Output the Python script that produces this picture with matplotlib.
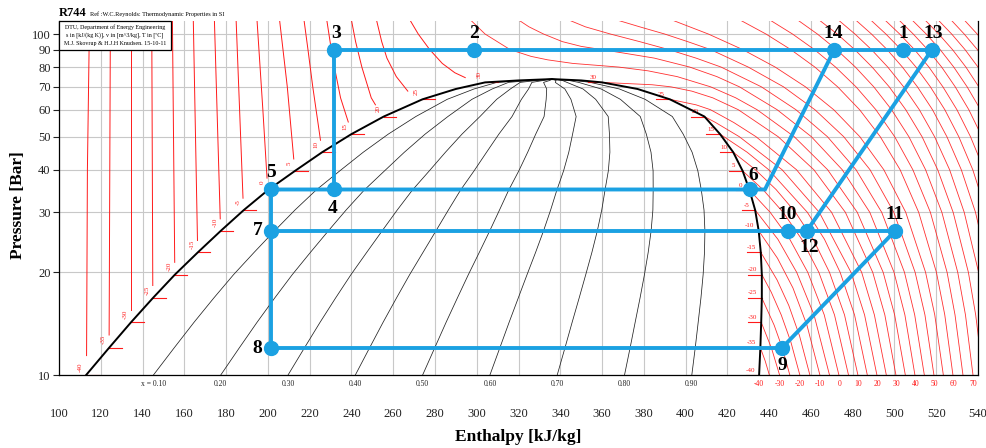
import matplotlib
matplotlib.use("Agg")
import matplotlib.pyplot as plt
from matplotlib.patches import Rectangle

plt.rcParams['font.family'] = ['Liberation Serif', 'DejaVu Serif']

# ---------------- data ----------------
# saturation dome: temperature [C], pressure [bar], liquid / vapour enthalpy [kJ/kg]
SAT_T = [-40, -35, -30, -25, -20, -15, -10, -5, 0, 5, 10, 15, 20, 25, 28, 30, 30.6, 31.0]
SAT_P = [10.0, 12.02, 14.28, 16.83, 19.70, 22.90, 26.49, 30.47, 34.85, 39.69, 45.02,
         50.87, 57.29, 64.34, 69.0, 72.14, 73.1, 73.77]
SAT_HL = [113.0, 124.0, 134.5, 145.0, 155.5, 166.5, 177.5, 188.5, 200.0, 213.0, 226.0,
          240.0, 255.5, 274.0, 290.0, 304.0, 320.0, 336.0]
SAT_HV = [435.2, 435.8, 436.2, 436.5, 436.5, 436.0, 435.0, 433.3, 430.6, 427.3, 422.8,
          416.5, 409.0, 392.5, 377.0, 360.0, 350.0, 336.0]

QUALITIES = [0.1, 0.2, 0.3, 0.4, 0.5, 0.6, 0.7, 0.8, 0.9]

# liquid-side isotherms (visible part, ending a little above the dome): T -> (P, h)
LIQ_ISO = {
    -40: ([11.4, 40, 110], [113.2, 113.6, 114.6]),
    -35: ([13.1, 110], [124.0, 124.6]),
    -30: ([15.5, 110], [134.5, 134.5]),
    -25: ([18.3, 110], [144.9, 144.4]),
    -20: ([21.4, 110], [155.4, 154.3]),
    -15: ([24.8, 110], [166.3, 164.3]),
    -10: ([28.7, 110], [177.2, 174.4]),
    -5: ([33.0, 110], [188.1, 184.8]),
    0: ([37.8, 60, 110], [199.6, 197.6, 194.8]),
    5: ([43.0, 70, 110], [212.4, 209.3, 205.6]),
    10: ([48.8, 70, 90, 110], [225.2, 221.5, 219.2, 217.3]),
    15: ([55.2, 65, 85, 110], [238.5, 234.8, 231.0, 228.2]),
    20: ([62.0, 65, 80, 95, 110], [251.5, 249.5, 245.0, 242.0, 240.0]),
    25: ([68.0, 75, 85, 95, 110], [267.0, 261.5, 257.0, 254.5, 252.0]),
    30: ([74.5, 77, 82, 90, 100, 110], [294.5, 289.5, 283.5, 277.5, 272.0, 268.0]),
}

# vapour / supercritical isotherms: T -> (pressures, enthalpies)
VAP_ISO = {
    -35: ([10, 11, 12.02], [440.1, 438.1, 435.8]),
    -30: ([10, 12, 14.28], [445.0, 441.1, 436.2]),
    -25: ([10, 12, 14, 16.83], [449.9, 446.3, 442.4, 436.5]),
    -20: ([10, 12.5, 15, 17.5, 19.7], [454.7, 450.4, 445.8, 441.0, 436.5]),
    -15: ([10, 13, 16, 19, 22.9], [459.5, 454.6, 449.4, 443.8, 436.0]),
    -10: ([10, 14, 18, 22, 26.49], [464.3, 458.1, 451.4, 444.0, 435.0]),
    -5: ([10, 15, 20, 25, 30.47], [468.9, 461.5, 453.2, 444.2, 433.3]),
    0: ([10, 15, 20, 25, 30, 34.85], [473.4, 466.4, 458.5, 449.9, 440.5, 430.6]),
    5: ([10, 15, 20, 25, 30, 35, 39.69], [478.0, 471.3, 463.8, 455.6, 446.7, 437.0, 427.3]),
    10: ([10, 15, 20, 25, 30, 35, 40, 45.02], [482.5, 476.1, 468.9, 461.1, 452.6, 443.3, 433.4, 422.8]),
    15: ([10, 15, 20, 25, 30, 40, 45, 50.87], [487.0, 480.9, 474.0, 466.5, 458.3, 439.8, 429.5, 416.5]),
    20: ([10, 15, 20, 30, 40, 50, 55, 57.29], [491.6, 485.7, 479.2, 464.0, 446.2, 425.7, 414.4, 409.0]),
    25: ([10, 15, 20, 30, 40, 50, 55, 60, 62, 64.34],
         [496.1, 490.4, 484.3, 469.9, 453.1, 433.7, 423.1, 411.9, 405.0, 392.5]),
    30: ([10, 15, 20, 30, 40, 50, 60, 65, 68, 70, 71, 72.14],
         [500.7, 495.4, 489.6, 476.5, 461.4, 444.3, 425.2, 413.0, 403.0, 393.0, 384.0, 360.0]),
    35: ([10, 15, 20, 30, 40, 50, 60, 65, 70, 75, 78, 80, 81, 82, 84, 86, 90, 100, 110],
         [505.2, 500.1, 494.6, 482.2, 468.0, 452.0, 434.2, 424.0, 412.0, 396.0, 382.0, 368.0,
          357.0, 346.0, 334.0, 326.0, 316.0, 304.0, 297.0]),
    40: ([10, 15, 20, 30, 40, 50, 60, 70, 75, 80, 85, 88, 90, 92, 95, 100, 105, 110],
         [509.8, 505.0, 499.8, 488.2, 475.0, 460.2, 443.8, 425.8, 415.0, 402.0, 385.0, 370.0,
          360.0, 350.0, 341.0, 332.0, 325.0, 320.0]),
    45: ([10, 15, 20, 30, 40, 50, 60, 70, 80, 85, 90, 95, 100, 105, 110],
         [514.3, 509.7, 504.8, 493.9, 481.6, 467.9, 452.8, 436.3, 417.0, 405.0, 392.0, 378.0,
          364.0, 352.0, 344.0]),
    50: ([10, 15, 20, 30, 40, 50, 60, 70, 80, 90, 95, 100, 105, 110],
         [518.9, 514.6, 509.9, 499.7, 488.3, 475.7, 461.9, 446.9, 430.0, 412.0, 401.0, 390.0,
          378.0, 367.0]),
    55: ([10, 15, 20, 30, 40, 50, 60, 70, 80, 90, 100, 110],
         [523.4, 519.3, 514.9, 505.4, 494.9, 483.4, 470.9, 457.4, 442.9, 427.4, 410.9, 393.4]),
    60: ([10, 15, 20, 30, 40, 50, 60, 70, 80, 90, 100, 110],
         [528.0, 524.1, 520.1, 511.6, 502.7, 493.2, 483.3, 472.8, 461.9, 450.4, 438.5, 426.0]),
    65: ([10, 15, 20, 30, 40, 50, 60, 70, 80, 90, 100, 110],
         [532.8, 529.0, 525.2, 517.2, 508.8, 500.1, 491.1, 481.6, 471.8, 461.7, 451.2, 440.3]),
    70: ([10, 15, 20, 30, 40, 50, 60, 70, 80, 90, 100, 110],
         [537.6, 534.0, 530.3, 522.7, 514.9, 506.9, 498.6, 490.1, 481.3, 472.3, 463.1, 453.6]),
    75: ([10, 15, 20, 30, 40, 50, 60, 70, 80, 90, 100, 110],
         [542.4, 538.9, 535.4, 528.1, 520.7, 513.2, 505.4, 497.5, 489.3, 481.0, 472.6, 463.9]),
    80: ([10, 15, 20, 30, 40, 50, 60, 70, 80, 90, 100, 110],
         [547.1, 543.7, 540.3, 533.4, 526.4, 519.2, 511.9, 504.4, 496.8, 489.0, 481.1, 473.1]),
    85: ([10, 15, 20, 30, 40, 50, 60, 70, 80, 90, 100, 110],
         [551.9, 548.7, 545.4, 538.8, 532.0, 525.1, 518.2, 511.0, 503.8, 496.5, 489.0, 481.4]),
    90: ([10, 15, 20, 30, 40, 50, 60, 70, 80, 90, 100, 110],
         [556.6, 553.5, 550.3, 544.0, 537.5, 530.8, 524.1, 517.2, 510.3, 503.2, 495.9, 488.6]),
    95: ([10, 15, 20, 30, 40, 50, 60, 70, 80, 90, 100, 110],
         [561.4, 558.4, 555.3, 549.2, 542.9, 536.4, 529.9, 523.2, 516.5, 509.6, 502.5, 495.4]),
    100: ([10, 15, 20, 30, 40, 50, 60, 70, 80, 90, 100, 110],
          [566.1, 563.2, 560.2, 554.3, 548.2, 541.9, 535.6, 529.1, 522.6, 515.9, 509.0, 502.1]),
    105: ([10, 15, 20, 30, 40, 50, 60, 70, 80, 90, 100, 110],
          [570.9, 568.1, 565.2, 559.4, 553.4, 547.3, 541.2, 534.8, 528.4, 521.9, 515.2, 508.4]),
    110: ([10, 15, 20, 30, 40, 50, 60, 70, 80, 90, 100, 110],
          [575.6, 572.8, 570.0, 564.4, 558.6, 552.6, 546.6, 540.4, 534.2, 527.8, 521.2, 514.6]),
    115: ([10, 15, 20, 30, 40, 50, 60, 70, 80, 90, 100, 110],
          [580.4, 577.7, 575.0, 569.5, 563.8, 558.0, 552.2, 546.1, 540.0, 533.8, 527.4, 520.9]),
    120: ([10, 15, 20, 30, 40, 50, 60, 70, 80, 90, 100, 110],
          [585.1, 582.5, 579.8, 574.5, 569.0, 563.3, 557.6, 551.7, 545.8, 539.7, 533.4, 527.1]),
    125: ([10, 15, 20, 30, 40, 50, 60, 70, 80, 90, 100, 110],
          [589.9, 587.4, 584.8, 579.6, 574.2, 568.7, 563.2, 557.4, 551.6, 545.7, 539.6, 533.4]),
    130: ([10, 15, 20, 30, 40, 50, 60, 70, 80, 90, 100, 110],
          [594.6, 592.2, 589.7, 584.6, 579.4, 574.0, 568.6, 563.0, 557.4, 551.6, 545.6, 539.6]),
}

# isotherm labels under the x axis (at 10 bar)
BOTTOM_T = [-40, -30, -20, -10, 0, 10, 20, 30, 40, 50, 60, 70]
BOTTOM_H = [435.2, 445.3, 454.9, 464.4, 473.6, 482.7, 491.8, 500.9, 510.0, 519.1, 528.2, 537.8]

X_TICKS = list(range(100, 541, 20))
Y_TICKS = [10, 20, 30, 40, 50, 60, 70, 80, 90, 100]

# refrigeration cycle state points
PT_NAME = ['1', '2', '3', '4', '5', '6', '7', '8', '9', '10', '11', '12', '13', '14']
PT_H = [504.3, 298.8, 231.7, 231.7, 201.5, 431.0, 201.5, 201.5, 446.1, 448.8, 500.4, 458.1, 518.0, 471.2]
PT_P = [90, 90, 90, 35, 35, 35, 26.5, 12, 12, 26.5, 26.5, 26.5, 90, 90]
KINK_H, KINK_P = 438.0, 35
CYCLE_PATHS = [['3', '2', '14', '1', '13'], ['3', '4'], ['5', '4', '6', 'K', '14'],
               ['5', '7', '8'], ['7', '10', '12', '11'], ['12', '13'], ['8', '9', '11']]
# label offsets in pixels (dx, dy, y up)
LABEL_OFF = {'1': (0, 16), '2': (0, 16), '3': (2, 16), '4': (-1, -19), '5': (0, 17),
             '6': (3, 14), '7': (-13, 0), '8': (-14, 0), '9': (0, -17), '10': (0, 16),
             '11': (-1, 16), '12': (2, -17), '13': (1, 16), '14': (-1, 16)}

BLUE = '#1ba1e2'
RED = '#ff1a1a'

# ---------------- figure ----------------
W, H = 987, 448
fig = plt.figure(figsize=(W / 100, H / 100), dpi=100)
ax = fig.add_axes([59 / W, 1 - 375 / H, (978 - 59) / W, (375 - 21) / H])
ax.set_yscale('log')
ax.set_xlim(100, 540)
ax.set_ylim(10, 109.2)

ax.set_xticks(X_TICKS)
ax.set_xticklabels([str(v) for v in X_TICKS])
ax.set_yticks(Y_TICKS)
ax.set_yticklabels([str(v) for v in Y_TICKS])
ax.yaxis.set_minor_locator(matplotlib.ticker.NullLocator())
ax.tick_params(axis='x', length=0, pad=24, labelsize=9, colors='#222222')
ax.tick_params(axis='y', length=4, width=0.8, pad=2, labelsize=9, colors='#222222')
ax.grid(True, color='#c8c8c8', lw=0.8)
ax.set_axisbelow(True)
for s in ['left', 'bottom', 'right']:
    ax.spines[s].set_linewidth(0.9)
ax.spines['top'].set_visible(False)

# isotherms
for T, (p, h) in LIQ_ISO.items():
    ax.plot(h, p, color=RED, lw=0.7, zorder=2)
for T, (p, h) in VAP_ISO.items():
    ax.plot(h, p, color=RED, lw=0.6, alpha=0.9, zorder=2)

# quality lines
for x in QUALITIES:
    hq = [hl + x * (hv - hl) for hl, hv in zip(SAT_HL, SAT_HV)]
    ax.plot(hq, SAT_P, color='#222222', lw=0.55, zorder=3)

# saturation dome
ax.plot(SAT_HL + SAT_HV[::-1], SAT_P + SAT_P[::-1], color='black', lw=1.4, zorder=4)

# dome temperature labels
for T, p, hl, hv in zip(SAT_T, SAT_P, SAT_HL, SAT_HV):
    if T % 5 != 0 or T > 30:
        continue
    lab = '%d' % T
    ax.plot([hl, hl + 6], [p, p], color=RED, lw=0.8, zorder=3)
    ax.annotate(lab, (hl, p), xytext=(-6, 8), textcoords='offset pixels', rotation=90,
                ha='center', va='center', fontsize=5, color=RED)
    ax.plot([hv - 6.5, hv], [p, p], color=RED, lw=0.8, zorder=3)
    ax.annotate(lab, (hv, p), xytext=(-9, 5), textcoords='offset pixels',
                ha='center', va='center', fontsize=5, color=RED)

# labels under the axis
for T, h in zip(BOTTOM_T, BOTTOM_H):
    ax.annotate('%d' % T, (h, 10), xytext=(0, -9), textcoords='offset pixels',
                ha='center', va='center', fontsize=5.5, color=RED, annotation_clip=False)
for x in QUALITIES:
    hx = SAT_HL[0] + x * (SAT_HV[0] - SAT_HL[0])
    lab = ('x = %.2f' % x) if x == QUALITIES[0] else '%.2f' % x
    ax.annotate(lab, (hx, 10), xytext=(0, -9), textcoords='offset pixels',
                ha='center', va='center', fontsize=5.5, color='#222222', annotation_clip=False)

# cycle
pts = {n: (h, p) for n, h, p in zip(PT_NAME, PT_H, PT_P)}
pts['K'] = (KINK_H, KINK_P)
for path in CYCLE_PATHS:
    ax.plot([pts[n][0] for n in path], [pts[n][1] for n in path], color=BLUE, lw=2.8,
            zorder=6, solid_capstyle='butt', solid_joinstyle='miter')
ax.plot(PT_H, PT_P, 'o', color=BLUE, ms=10, zorder=7)
for n, h, p in zip(PT_NAME, PT_H, PT_P):
    dx, dy = LABEL_OFF[n]
    ax.annotate(n, (h, p), xytext=(dx, dy), textcoords='offset pixels', ha='center',
                va='center', fontsize=14, fontweight='bold', color='black', zorder=8)

# axis labels
fig.text(518 / W, 1 - 437 / H, 'Enthalpy [kJ/kg]', ha='center', va='center',
         fontsize=12.5, fontweight='bold')
fig.text(18 / W, 1 - 205 / H, 'Pressure [Bar]', ha='center', va='center',
         fontsize=12.5, fontweight='bold', rotation=90)

# title
fig.text(59 / W, 1 - 13 / H, 'R744', ha='left', va='center', fontsize=9, fontweight='bold')
fig.text(90 / W, 1 - 14 / H, 'Ref :W.C.Reynolds: Thermodynamic Properties in SI',
         ha='left', va='center', fontsize=4.5)

# info box
fig.add_artist(Rectangle((59 / W, 1 - 50 / H), 112 / W, 29 / H, transform=fig.transFigure,
                         facecolor='white', edgecolor='black', lw=0.9, zorder=10))
info = ['DTU, Department of Energy Engineering',
        's in [kJ/(kg K)], v in [m^3/kg], T in [\u00baC]',
        'M.J. Skovrup & H.J.H Knudsen. 15-10-11']
for i, line in enumerate(info):
    fig.text(115 / W, 1 - (27 + 8.5 * i) / H, line, ha='center', va='center',
             fontsize=4.3, zorder=11)

fig.savefig('out.png', dpi=100)
